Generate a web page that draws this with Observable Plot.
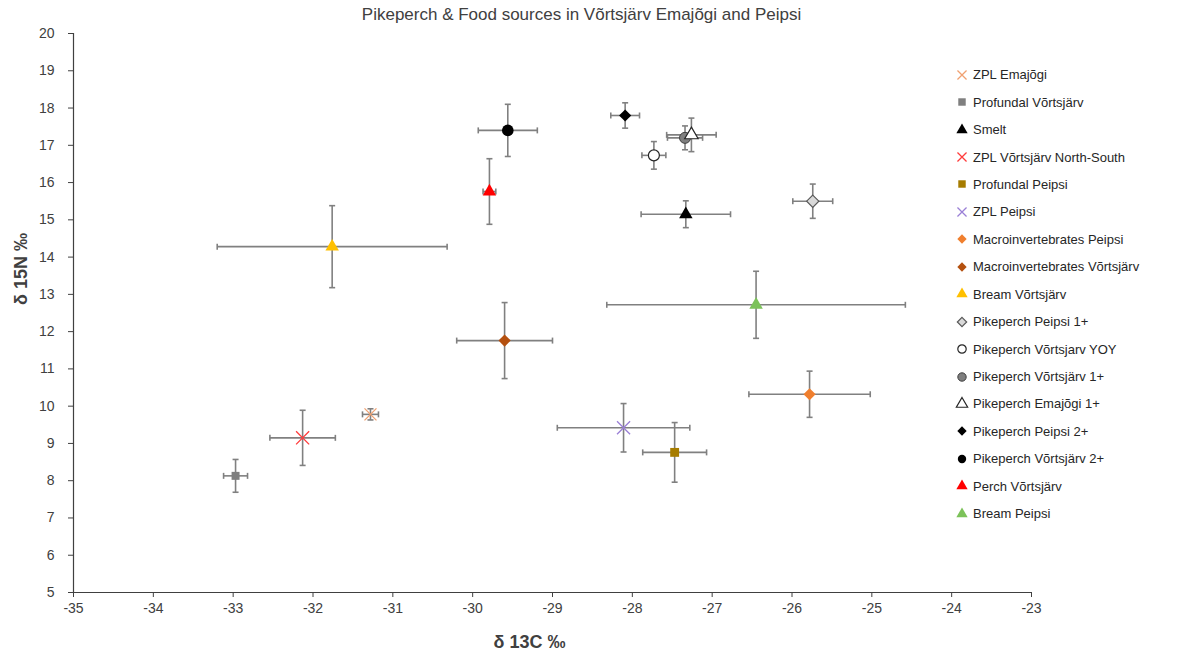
<!DOCTYPE html>
<html>
<head>
<meta charset="utf-8">
<script src="https://cdn.jsdelivr.net/npm/d3@7"></script>
<script src="https://cdn.jsdelivr.net/npm/@observablehq/plot@0.6"></script>
<style>
  body { margin: 0; background: #fff; }
  #wrap { position: relative; width: 1200px; height: 656px; font-family: "Liberation Sans", Arial, sans-serif; }
  #legend { position: absolute; left: 954px; top: 61px; }
  .item { height: 27.44px; display: flex; align-items: center; font-size: 13px; color: #262626; white-space: nowrap; }
  .item svg { width: 16px; height: 16px; margin-right: 3px; overflow: visible; }
</style>
</head>
<body>
<div id="wrap"><div id="legend"></div></div>
<script>
// ---- data ----
const series = [
  "ZPL Emajõgi", "Profundal Võrtsjärv", "Smelt", "ZPL Võrtsjärv North-South",
  "Profundal Peipsi", "ZPL Peipsi", "Macroinvertebrates Peipsi", "Macroinvertebrates Võrtsjärv",
  "Bream Võrtsjärv", "Pikeperch Peipsi 1+", "Pikeperch Võrtsjarv YOY", "Pikeperch Võrtsjärv 1+",
  "Pikeperch Emajõgi 1+", "Pikeperch Peipsi 2+", "Pikeperch Võrtsjärv 2+", "Perch Võrtsjärv", "Bream Peipsi"
];
const d13C   = [-31.28, -32.97, -27.33, -32.13, -27.47, -28.11, -25.78, -29.60, -31.76, -25.74, -27.73, -27.34, -27.26, -28.09, -29.56, -29.79, -26.45];
const d15N   = [  9.78,   8.13,  15.15,   9.15,   8.76,   9.42,  10.32,  11.76,  14.28,  15.50,  16.73,  17.20,  17.28,  17.80,  17.40,  15.76,  12.72];
const sd13C  = [  0.10,   0.15,   0.56,   0.41,   0.40,   0.83,   0.76,   0.60,   1.44,   0.25,   0.15,   0.22,   0.31,   0.18,   0.37,   0.08,   1.87];
const sd15N  = [  0.15,   0.44,   0.36,   0.74,   0.80,   0.65,   0.62,   1.02,   1.10,   0.46,   0.37,   0.32,   0.45,   0.34,   0.70,   0.88,   0.90];
const xTicks = d3.range(-35, -22, 1);
const yTicks = d3.range(5, 21, 1);
const title = "Pikeperch & Food sources in Võrtsjärv Emajõgi and Peipsi";
const xLabel = "δ 13C ‰";
const yLabel = "δ 15N ‰";

// ---- styles ----
const styles = [
  {symbol: "times",    fill: "none",    stroke: "#f0a070", r: 5.5, sw: 1.3},
  {symbol: "square",   fill: "#7f7f7f", stroke: "#7f7f7f", r: 4.5, sw: 0},
  {symbol: "triangle", fill: "#000",    stroke: "#000",    r: 5,   sw: 0},
  {symbol: "times",    fill: "none",    stroke: "#ff3b3b", r: 6,   sw: 1.3},
  {symbol: "square",   fill: "#a67c00", stroke: "#a67c00", r: 5,   sw: 0},
  {symbol: "times",    fill: "none",    stroke: "#9a7fd6", r: 6,   sw: 1.3},
  {symbol: "diamond2", fill: "#f07f2e", stroke: "#f07f2e", r: 5.5, sw: 0},
  {symbol: "diamond2", fill: "#b4500f", stroke: "#b4500f", r: 5.5, sw: 0},
  {symbol: "triangle", fill: "#ffc000", stroke: "#ffc000", r: 5,   sw: 0},
  {symbol: "diamond2", fill: "#d9d9d9", stroke: "#595959", r: 5.5, sw: 1.2},
  {symbol: "circle",   fill: "#fff",    stroke: "#262626", r: 5.5, sw: 1.2},
  {symbol: "circle",   fill: "#7f7f7f", stroke: "#404040", r: 5.5, sw: 1},
  {symbol: "triangle", fill: "#fff",    stroke: "#262626", r: 5,   sw: 1.2},
  {symbol: "diamond2", fill: "#000",    stroke: "#000",    r: 5.5, sw: 0},
  {symbol: "circle",   fill: "#000",    stroke: "#000",    r: 5.8, sw: 0},
  {symbol: "triangle", fill: "#ff0000", stroke: "#ff0000", r: 5,   sw: 0},
  {symbol: "triangle", fill: "#7cc25a", stroke: "#7cc25a", r: 5,   sw: 0}
];
const barColor = "#808080";

const data = series.map((s, i) => ({s, i, x: d13C[i], y: d15N[i], ex: sd13C[i], ey: sd15N[i]}));

const vCap = {draw(ctx, size) { const h = Math.sqrt(size / Math.PI); ctx.moveTo(0, -h); ctx.lineTo(0, h); }};
const hCap = {draw(ctx, size) { const h = Math.sqrt(size / Math.PI); ctx.moveTo(-h, 0); ctx.lineTo(h, 0); }};

const barStyle = {stroke: barColor, strokeWidth: 1.6};
const capStyle = {stroke: barColor, strokeWidth: 1.6, fill: "none", r: 3};

const pointMarks = styles.map((st, i) => Plot.dot(data.filter(d => d.i === i), {
  x: "x", y: "y", symbol: st.symbol, r: st.r, fill: st.fill, stroke: st.stroke, strokeWidth: st.sw
}));

const chart = Plot.plot({
  width: 1200,
  height: 656,
  marginLeft: 73,
  marginRight: 169,
  marginTop: 33,
  marginBottom: 64,
  style: {fontFamily: "Liberation Sans, Arial, sans-serif", fontSize: "14px", color: "#404040", background: "#fff"},
  x: {domain: [-35, -23], ticks: xTicks, tickSize: 5, tickPadding: 6, label: null, tickFormat: d => d},
  y: {domain: [5, 20], ticks: yTicks, tickSize: 5, tickPadding: 14, label: null, tickFormat: d => d},
  marks: [
    Plot.ruleX([-35], {stroke: "#404040", strokeWidth: 1.2}),
    Plot.ruleY([5], {stroke: "#404040", strokeWidth: 1.2}),
    Plot.link(data, {x1: d => d.x - d.ex, x2: d => d.x + d.ex, y1: "y", y2: "y", ...barStyle}),
    Plot.link(data, {x1: "x", x2: "x", y1: d => d.y - d.ey, y2: d => d.y + d.ey, ...barStyle}),
    Plot.dot(data, {x: d => d.x - d.ex, y: "y", symbol: vCap, ...capStyle}),
    Plot.dot(data, {x: d => d.x + d.ex, y: "y", symbol: vCap, ...capStyle}),
    Plot.dot(data, {x: "x", y: d => d.y - d.ey, symbol: hCap, ...capStyle}),
    Plot.dot(data, {x: "x", y: d => d.y + d.ey, symbol: hCap, ...capStyle}),
    ...pointMarks,
    Plot.text([title], {text: d => d, frameAnchor: "top", dx: 29, dy: -26, fontSize: 17, fill: "#404040"}),
    Plot.text([xLabel], {text: d => d, frameAnchor: "bottom", dx: -23, dy: 55, fontSize: 18, fontWeight: "bold", fill: "#404040"}),
    Plot.text([yLabel], {text: d => d, frameAnchor: "left", dx: -52, dy: -8, rotate: -90, fontSize: 18, fontWeight: "bold", fill: "#404040"})
  ]
});
document.getElementById("wrap").prepend(chart);

// ---- legend ----
const symMap = {
  times: d3.symbolTimes, square: d3.symbolSquare, triangle: d3.symbolTriangle,
  diamond2: d3.symbolDiamond2, circle: d3.symbolCircle
};
const legend = d3.select("#legend");
series.forEach((name, i) => {
  const st = styles[i];
  const row = legend.append("div").attr("class", "item");
  const svg = row.append("svg").attr("viewBox", "-8 -8 16 16");
  const size = Math.PI * Math.pow(4.2, 2);
  svg.append("path")
    .attr("d", d3.symbol(symMap[st.symbol], size)())
    .attr("fill", st.fill)
    .attr("stroke", st.stroke)
    .attr("stroke-width", st.sw);
  row.append("span").text(name);
});
</script>
</body>
</html>
